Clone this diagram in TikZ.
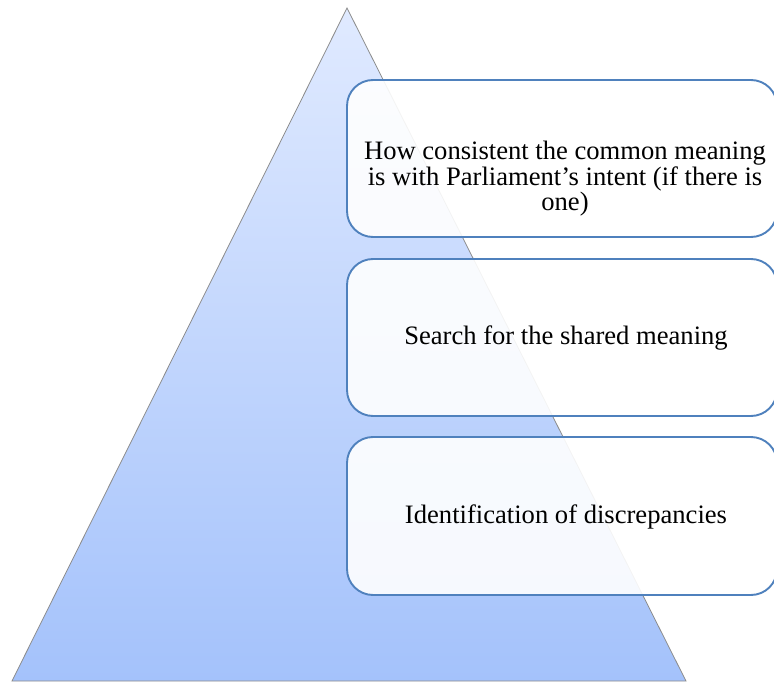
\documentclass[tikz,border=0pt]{standalone}
\usepackage{fontspec}
\setmainfont{Liberation Serif}
\begin{document}
\begin{tikzpicture}[x=1pt,y=-1pt,
  stepbox/.style={draw={rgb,255:red,79;green,129;blue,189}, line width=1.9pt, rounded corners=26pt, fill=white, fill opacity=0.9, text opacity=1},
  lbl/.style={font=\fontsize{26.6}{25.5}\selectfont, align=center, inner sep=0pt}
]
\useasboundingbox (0,0) rectangle (774,682);
\definecolor{toptri}{RGB}{224,234,255}
\definecolor{bottri}{RGB}{164,194,251}
\path[draw=black!45, line width=0.8pt, top color=toptri, bottom color=bottri]
  (347,8) coordinate (apex) -- (686,681) coordinate (br) -- (12,681) coordinate (bl) -- cycle;
\path[stepbox] (347,80) rectangle (777,237);
\path[stepbox] (347,259) rectangle (777,416);
\path[stepbox] (347,437) rectangle (777,595);
\node[lbl] (t1) at (565,179) {How consistent the common meaning\\is with Parliament’s intent (if there is\\one)};
\node[lbl] (t2) at (566,338) {Search for the shared meaning};
\node[lbl] (t3) at (566,517) {Identification of discrepancies};
\end{tikzpicture}
\end{document}
